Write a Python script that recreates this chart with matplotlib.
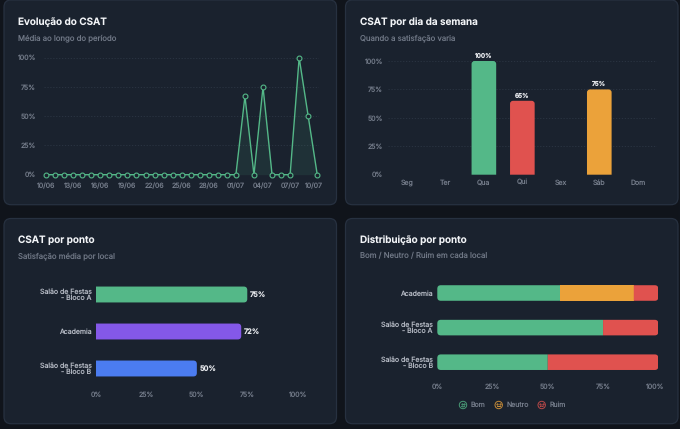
import matplotlib
matplotlib.use('Agg')
import matplotlib.pyplot as plt
from matplotlib.patches import FancyBboxPatch, PathPatch, Circle, Arc
from matplotlib.path import Path
from matplotlib.transforms import ScaledTranslation

plt.rcParams['font.family'] = ['Inter', 'DejaVu Sans']
plt.rcParams['text.hinting'] = 'none'
plt.rcParams['text.hinting_factor'] = 1

# data
dates = ['10/06', '11/06', '12/06', '13/06', '14/06', '15/06', '16/06', '17/06', '18/06', '19/06',
         '20/06', '21/06', '22/06', '23/06', '24/06', '25/06', '26/06', '27/06', '28/06', '29/06',
         '30/06', '01/07', '02/07', '03/07', '04/07', '05/07', '06/07', '07/07', '08/07', '09/07', '10/07']
csat_daily = [0, 0, 0, 0, 0, 0, 0, 0, 0, 0, 0, 0, 0, 0, 0, 0, 0, 0, 0, 0, 0, 0,
              67, 0, 75, 0, 0, 0, 100, 50, 0]
date_ticks = [0, 3, 6, 9, 12, 15, 18, 21, 24, 27, 30]

weekdays = ['Seg', 'Ter', 'Qua', 'Qui', 'Sex', 'Sáb', 'Dom']
weekday_vals = [0, 0, 100, 65, 0, 75, 0]

places = ['Salão de Festas\n- Bloco A', 'Academia', 'Salão de Festas\n- Bloco B']
place_vals = [75, 72, 50]

dist_places = ['Academia', 'Salão de Festas\n- Bloco A', 'Salão de Festas\n- Bloco B']
bom = [55.6, 75, 50]
neutro = [33.3, 0, 0]
ruim = [11.1, 25, 50]

pct_ticks = [0, 25, 50, 75, 100]
pct_labels = ['0%', '25%', '50%', '75%', '100%']

BG = '#10141b'
PANEL = '#1a222e'
EDGE = '#273140'
GRID = '#2c3644'
TICK = '#737b89'
GREEN = '#54b888'
RED = '#e0524f'
ORANGE = '#eba23a'
PURPLE = '#8458e8'
BLUE = '#4b7cf0'

W, H = 680, 429
fig = plt.figure(figsize=(W / 100, H / 100), dpi=100, facecolor=BG)

# overlay in pixel coords for cards and headings
bg = fig.add_axes([0, 0, 1, 1], zorder=0)
bg.set_xlim(0, W)
bg.set_ylim(H, 0)
bg.axis('off')


def card(x0, y0, x1, y1, title, sub, tx, ty):
    bg.add_patch(FancyBboxPatch((x0 + 6, y0 + 6), x1 - x0 - 12, y1 - y0 - 12,
                                boxstyle='round,pad=6,rounding_size=7',
                                fc=PANEL, ec=EDGE, lw=0.9))
    bg.text(tx, ty, title, color='#f2f4f7', fontsize=7.15, fontweight='semibold', va='center')
    bg.text(tx, ty + 16, sub, color='#6f7785', fontsize=5.6, va='center')


card(4, 0, 336.5, 204.7, 'Evolução do CSAT', 'Média ao longo do período', 18.3, 22)
card(345.5, 0, 678, 204.7, 'CSAT por dia da semana', 'Quando a satisfação varia', 359.7, 22)
card(4, 218.5, 336.5, 423.7, 'CSAT por ponto', 'Satisfação média por local', 18.3, 240.3)
card(345.5, 218.5, 678, 423.7, 'Distribuição por ponto', 'Bom / Neutro / Ruim em cada local', 359.7, 240.3)


def make_ax(left, top, right, bottom):
    ax = fig.add_axes([left / W, 1 - bottom / H, (right - left) / W, (bottom - top) / H], zorder=1)
    ax.patch.set_visible(False)
    for s in ax.spines.values():
        s.set_visible(False)
    ax.tick_params(length=0, labelsize=5.0, labelcolor=TICK)
    return ax


def round_bar(ax, x0, y0, x1, y1, color, corners, r=4):
    # corners: which of bl, br, tr, tl are rounded, r in pixels
    # y0 is the visual bottom, y1 the visual top, also on inverted axes
    box = ax.get_window_extent()
    xl, yl = ax.get_xlim(), ax.get_ylim()
    rx = r * abs(xl[1] - xl[0]) / box.width
    ry = r * abs(yl[1] - yl[0]) / box.height
    if y1 < y0:
        ry = -ry
    rx = min(rx, abs(x1 - x0) / 2)
    verts = [(x0 + (rx if 'bl' in corners else 0), y0)]
    codes = [Path.MOVETO]
    for name, corner, before, after in [
        ('br', (x1, y0), (x1 - rx, y0), (x1, y0 + ry)),
        ('tr', (x1, y1), (x1, y1 - ry), (x1 - rx, y1)),
        ('tl', (x0, y1), (x0 + rx, y1), (x0, y1 - ry)),
        ('bl', (x0, y0), (x0, y0 + ry), (x0 + rx, y0)),
    ]:
        if name in corners:
            verts += [before, corner, after]
            codes += [Path.LINETO, Path.CURVE3, Path.CURVE3]
        else:
            verts.append(corner)
            codes.append(Path.LINETO)
    ax.add_patch(PathPatch(Path(verts, codes), fc=color, ec='none', zorder=3))


def shift_label(label, px):
    label.set_transform(label.get_transform() + ScaledTranslation(px / 100, 0, fig.dpi_scale_trans))


# ============================================
# Evolucao do CSAT
# ============================================
ax1 = make_ax(44.3, 57.7, 319.5, 174.7)
xs = list(range(len(dates)))
ax1.fill_between(xs, csat_daily, 0, color=GREEN, alpha=0.1, lw=0, zorder=1)
ax1.plot(xs, csat_daily, color=GREEN, lw=1.0, marker='o', ms=3.5, mfc=PANEL, mec=GREEN, mew=0.8,
         clip_on=False, zorder=3)
ax1.set_xlim(-0.2, 30.25)
ax1.set_ylim(0, 100)
ax1.set_yticks(pct_ticks, pct_labels)
ax1.set_xticks(date_ticks, [dates[i] for i in date_ticks])
ax1.tick_params(axis='y', pad=6)
ax1.tick_params(axis='x', pad=6)
ax1.grid(axis='y', color=GRID, lw=0.6, ls=(0, (1.5, 2)))
ax1.set_axisbelow(True)
shift_label(ax1.get_xticklabels()[-1], -3)

# ============================================
# CSAT por dia da semana
# ============================================
ax2 = make_ax(387.7, 61, 657, 174.7)
ax2.set_xlim(-0.5, 6.5)
ax2.set_ylim(0, 100)
ax2.set_yticks(pct_ticks, pct_labels)
ax2.set_xticks(range(len(weekdays)), weekdays)
ax2.tick_params(axis='y', pad=3.5)
ax2.tick_params(axis='x', pad=3.5)
ax2.grid(axis='y', color=GRID, lw=0.6, ls=(0, (1.5, 2)))
ax2.set_axisbelow(True)
week_colors = {2: GREEN, 3: RED, 5: ORANGE}
for i, v in enumerate(weekday_vals):
    if v > 0:
        round_bar(ax2, i - 0.32, 0, i + 0.32, v, week_colors[i], ('tl', 'tr'), r=3)
        ax2.annotate(f'{v}%', (i, v), xytext=(0, 1.4), textcoords='offset points', ha='center', va='bottom',
                     color='#e6e8ec', fontsize=4.6, fontweight='semibold', annotation_clip=False)

# ============================================
# CSAT por ponto
# ============================================
ax3 = make_ax(96, 276, 297.7, 387)
ax3.set_xlim(0, 100)
ax3.set_ylim(2.5, -0.5)
ax3.set_xticks(pct_ticks, pct_labels)
ax3.set_yticks(range(len(places)), places, linespacing=0.95)
ax3.tick_params(axis='y', pad=3.2, labelcolor='#b3b8c2')
ax3.tick_params(axis='x', pad=3)
place_colors = [GREEN, PURPLE, BLUE]
for i, v in enumerate(place_vals):
    round_bar(ax3, 0, i + 0.215, v, i - 0.215, place_colors[i], ('br', 'tr'), r=3.5)
    ax3.annotate(f'{v}%', (v, i), xytext=(2, 0), textcoords='offset points', va='center', ha='left',
                 color='#e6e8ec', fontsize=5.3, fontweight='semibold')

# ============================================
# Distribuicao por ponto
# ============================================
ax4 = make_ax(437.3, 275.7, 658.3, 379.5)
ax4.set_xlim(0, 100)
ax4.set_ylim(2.5, -0.5)
ax4.set_xticks(pct_ticks, pct_labels)
ax4.set_yticks(range(len(dist_places)), dist_places, linespacing=0.95)
ax4.tick_params(axis='y', pad=3.2, labelcolor='#b3b8c2')
ax4.tick_params(axis='x', pad=3)
shift_label(ax4.get_xticklabels()[-1], -3)
for i in range(len(dist_places)):
    segs = [(bom[i], GREEN), (neutro[i], ORANGE), (ruim[i], RED)]
    segs = [s for s in segs if s[0] > 0]
    left = 0
    for j, (v, c) in enumerate(segs):
        corners = ()
        if j == 0:
            corners += ('bl', 'tl')
        if j == len(segs) - 1:
            corners += ('br', 'tr')
        round_bar(ax4, left, i + 0.225, left + v, i - 0.225, c, corners, r=3.5)
        left += v

# legend with small faces
legend_items = [('Bom', GREEN, 463, 471), ('Neutro', ORANGE, 498.7, 506.7), ('Ruim', RED, 541.7, 549.3)]
ly = 405
for name, c, ix, tx in legend_items:
    bg.add_patch(Circle((ix, ly), 3.7, fc='none', ec=c, lw=0.7, alpha=0.8, zorder=5))
    bg.plot([ix - 1.3, ix + 1.3], [ly - 1, ly - 1], ls='none', marker='.', ms=0.9, color=c, zorder=5)
    if name == 'Bom':
        bg.add_patch(Arc((ix, ly + 0.4), 3.6, 3, theta1=20, theta2=160, ec=c, lw=0.6, zorder=5))
    elif name == 'Neutro':
        bg.plot([ix - 1.6, ix + 1.6], [ly + 1.4, ly + 1.4], color=c, lw=0.6, zorder=5)
    else:
        bg.add_patch(Arc((ix, ly + 2.6), 3.6, 3, theta1=200, theta2=340, ec=c, lw=0.6, zorder=5))
    bg.text(tx, ly, name, color=TICK, fontsize=5.0, va='center')
bg.set_xlim(0, W)
bg.set_ylim(H, 0)

fig.savefig('out.png', dpi=100, facecolor=BG)
